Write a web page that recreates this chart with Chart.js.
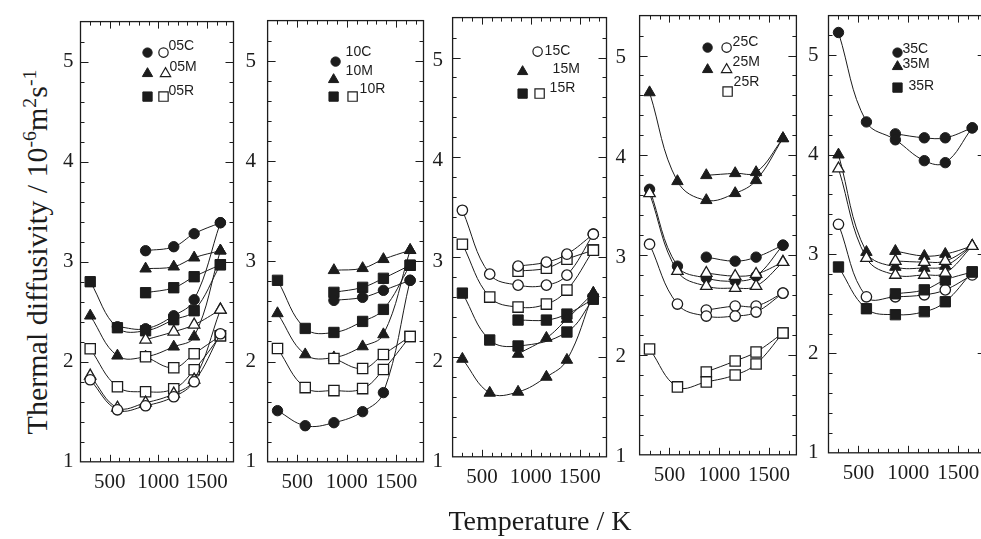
<!DOCTYPE html>
<html>
<head>
<meta charset="utf-8"/>
<script src="https://cdn.jsdelivr.net/npm/chart.js@4.4.1/dist/chart.umd.min.js"></script>
<style>
	body { margin:0; background:#fff; width:981px; height:539px; overflow:hidden; position:relative; }
	canvas.pan { position:absolute; }
	#ytitle { position:absolute; left:37px; top:252px; transform:translate(-50%,-50%) rotate(-90deg);
		white-space:nowrap; font:30px "Liberation Serif", serif; color:#1c1c1c; }
	#ytitle sup { font-size:0.66em; line-height:0; vertical-align:0.55em; }
	#xtitle { position:absolute; left:540px; top:521px; transform:translate(-50%,-50%);
		white-space:nowrap; font:28px "Liberation Serif", serif; color:#1c1c1c; }
</style>
</head>
<body>
<canvas id="p1" class="pan"></canvas>
<canvas id="p2" class="pan"></canvas>
<canvas id="p3" class="pan"></canvas>
<canvas id="p4" class="pan"></canvas>
<canvas id="p5" class="pan"></canvas>
<div id="ytitle">Thermal diffusivity / 10<sup>-6</sup>m<sup>2</sup>s<sup>-1</sup></div>
<div id="xtitle">Temperature / K</div>
<script>
// temperatures (K): first run from room temperature, second run from 870 K up
var T6 = [300, 580, 870, 1160, 1370, 1640];
var T4 = [870, 1160, 1370, 1640];
var xLabels = [500, 1000, 1500];
var yLabels = [1, 2, 3, 4, 5];

// 05 series
var fc05Lo = [null, 2.35, 2.33, 2.46, 2.62, 3.39];
var fc05Hi = [3.11, 3.15, 3.28, 3.39];
var oc05   = [1.82, 1.52, 1.56, 1.65, 1.80, 2.28];
var ft05Lo = [2.46, 2.06, 2.05, 2.15, 2.25, 3.11];
var ft05Hi = [2.93, 2.95, 3.04, 3.11];
var ot05Lo = [1.86, 1.54, 1.59, 1.68, 1.82, 2.52];
var ot05Hi = [2.22, 2.30, 2.37, 2.52];
var fs05Lo = [2.80, 2.34, 2.31, 2.42, 2.51, 2.97];
var fs05Hi = [2.69, 2.74, 2.85, 2.97];
var os05Lo = [2.13, 1.75, 1.70, 1.73, 1.92, 2.26];
var os05Hi = [2.05, 1.94, 2.08, 2.26];

// 10 series
var fc10Lo = [1.51, 1.36, 1.39, 1.50, 1.69, 2.81];
var fc10Hi = [2.61, 2.64, 2.71, 2.81];
var ft10Lo = [2.48, 2.07, 2.04, 2.15, 2.27, 3.11];
var ft10Hi = [2.91, 2.93, 3.02, 3.11];
var fs10Lo = [2.81, 2.33, 2.29, 2.40, 2.52, 2.96];
var fs10Hi = [2.69, 2.74, 2.83, 2.96];
var os10Lo = [2.13, 1.74, 1.71, 1.73, 1.92, 2.25];
var os10Hi = [2.03, 1.93, 2.07, 2.25];

// 15 series
var oc15Lo = [3.47, 2.83, 2.72, 2.72, 2.82, 3.23];
var oc15Hi = [2.91, 2.95, 3.03, 3.23];
var ft15Lo = [1.98, 1.64, 1.65, 1.80, 1.97, 2.64];
var ft15Hi = [2.03, 2.19, 2.38, 2.64];
var fs15Lo = [2.64, 2.17, 2.11, null, 2.25, 2.58];
var fs15Hi = [2.37, 2.37, 2.43, 2.58];
var os15Lo = [3.13, 2.60, 2.50, 2.53, 2.67, 3.07];
var os15Hi = [2.86, 2.89, 2.98, 3.07];

// 25 series
var fc25Lo = [3.66, 2.89, 2.77, 2.74, 2.79, 3.10];
var fc25Hi = [2.98, 2.94, 2.98, 3.10];
var oc25Lo = [3.11, 2.51, 2.39, 2.39, 2.43, 2.62];
var oc25Hi = [2.45, 2.49, 2.49, 2.62];
var ft25Lo = [4.63, 3.74, 3.55, 3.62, 3.75, 4.17];
var ft25Hi = [3.80, 3.82, 3.83, 4.17];
var ot25Lo = [3.62, 2.84, 2.69, 2.67, 2.69, 2.93];
var ot25Hi = [2.82, 2.79, 2.81, 2.93];
var os25Lo = [2.06, 1.68, 1.73, 1.80, 1.91, 2.22];
var os25Hi = [1.83, 1.94, 2.03, 2.22];

// 35 series
var fc35Lo = [5.23, 4.33, 4.15, 3.94, 3.92, 4.27];
var fc35Hi = [4.21, 4.17, 4.17, 4.27];
var ft35Lo = [4.00, 3.02, 2.87, 2.86, 2.88, 3.08];
var ft35Hi = [3.03, 2.98, 3.00, 3.08];
var ot35Lo = [3.86, 2.96, 2.79, 2.79, 2.81, 3.08];
var ot35Hi = [2.93, 2.92, 2.93, 3.08];
var oc35   = [3.30, 2.57, 2.57, 2.59, 2.64, 2.79];
var fs35Lo = [2.87, 2.45, 2.39, 2.42, 2.52, 2.82];
var fs35Hi = [2.60, 2.64, 2.74, 2.82];

var INK = '#1c1c1c';
var SERIF = '"Liberation Serif", "Times New Roman", serif';
var SANS = '"Liberation Sans", Arial, sans-serif';
var RAD = { circle: 5.2, rect: 7.3, triangle: 6.6 };

// [temps, values, shape, filled, order]
var panels = [
	{ id:'p1', frame:{l:80, t:22, w:153, h:440}, yl:true, yr:true,
	  series:[[T6,fc05Lo,'circle',1],[T4,fc05Hi,'circle',1],[T6,oc05,'circle',0],
	          [T6,ft05Lo,'triangle',1],[T4,ft05Hi,'triangle',1],[T6,ot05Lo,'triangle',0],[T4,ot05Hi,'triangle',0],
	          [T6,fs05Lo,'rect',1],[T4,fs05Hi,'rect',1],[T6,os05Lo,'rect',0],[T4,os05Hi,'rect',0]],
	  key:[{m:[['circle',1,67,31],['circle',0,83,31]], t:'05C', x:88, y:25},
	       {m:[['triangle',1,67,52],['triangle',0,85,52]], t:'05M', x:89, y:46},
	       {m:[['rect',1,67,75],['rect',0,83,75]], t:'05R', x:88, y:70}] },
	{ id:'p2', frame:{l:268, t:21, w:156, h:441}, yr:true,
	  series:[[T6,fc10Lo,'circle',1],[T4,fc10Hi,'circle',1],
	          [T6,ft10Lo,'triangle',1],[T4,ft10Hi,'triangle',1],
	          [T6,fs10Lo,'rect',1],[T4,fs10Hi,'rect',1],[T6,os10Lo,'rect',0],[T4,os10Hi,'rect',0]],
	  key:[{m:[['circle',1,68,41]], t:'10C', x:78, y:32},
	       {m:[['triangle',1,66,59]], t:'10M', x:78, y:51},
	       {m:[['rect',1,66,76],['rect',0,85,76]], t:'10R', x:92, y:69}] },
	{ id:'p3', frame:{l:453, t:18, w:154, h:439}, yr:true,
	  series:[[T6,oc15Lo,'circle',0],[T4,oc15Hi,'circle',0],
	          [T6,ft15Lo,'triangle',1],[T4,ft15Hi,'triangle',1],
	          [T6,fs15Lo,'rect',1],[T4,fs15Hi,'rect',1],[T6,os15Lo,'rect',0],[T4,os15Hi,'rect',0]],
	  key:[{m:[['circle',0,85,34]], t:'15C', x:92, y:34},
	       {m:[['triangle',1,70,54]], t:'15M', x:100, y:52},
	       {m:[['rect',1,70,76],['rect',0,87,76]], t:'15R', x:97, y:71}] },
	{ id:'p4', frame:{l:640, t:16, w:157, h:439},
	  series:[[T6,fc25Lo,'circle',1],[T4,fc25Hi,'circle',1],[T6,oc25Lo,'circle',0],[T4,oc25Hi,'circle',0],
	          [T6,ft25Lo,'triangle',1],[T4,ft25Hi,'triangle',1],[T6,ot25Lo,'triangle',0],[T4,ot25Hi,'triangle',0],
	          [T6,os25Lo,'rect',0],[T4,os25Hi,'rect',0]],
	  key:[{m:[['circle',1,68,32],['circle',0,87,32]], t:'25C', x:93, y:27},
	       {m:[['triangle',1,68,54],['triangle',0,87,54]], t:'25M', x:93, y:47},
	       {m:[['rect',0,88,76]], t:'25R', x:94, y:67}] },
	{ id:'p5', frame:{l:828, t:16, w:157, h:437}, yl:true,
	  series:[[T6,fc35Lo,'circle',1],[T4,fc35Hi,'circle',1],
	          [T6,ft35Lo,'triangle',1],[T4,ft35Hi,'triangle',1],[T6,ot35Lo,'triangle',0],[T4,ot35Hi,'triangle',0],
	          [T6,fs35Lo,'rect',1],[T4,fs35Hi,'rect',1],[T6,oc35,'circle',0,3]],
	  key:[{m:[['circle',1,69,37]], t:'35C', x:74, y:34},
	       {m:[['triangle',1,69,51]], t:'35M', x:74, y:49},
	       {m:[['rect',1,69,72]], t:'35R', x:80, y:71}] }
];

function dataset(s) {
	var pts = [];
	for (var i = 0; i < s[0].length; i++) {
		if (s[1][i] != null) pts.push({ x: s[0][i], y: s[1][i] });
	}
	return {
		data: pts, showLine: true, tension: 0.4,
		borderColor: INK, borderWidth: 1,
		pointStyle: s[2], pointRadius: RAD[s[2]], pointHoverRadius: RAD[s[2]],
		pointBackgroundColor: s[3] ? INK : '#fff',
		pointBorderColor: INK, pointBorderWidth: s[3] ? 1 : 1.3,
		order: s[4] != null ? s[4] : (s[3] ? 2 : 1)
	};
}

function yAxis(pos, show, pad) {
	return {
		type: 'linear', position: pos, min: 1, max: 5.4,
		grid: { display: false, drawTicks: false }, border: { display: false },
		ticks: { display: show, stepSize: 0.2, autoSkip: false, padding: pad, color: INK,
			font: { family: SERIF, size: 21 },
			callback: function (v) {
				var r = Math.round(v);
				return (Math.abs(v - r) < 1e-6 && yLabels.indexOf(r) >= 0) ? String(r) : '';
			} }
	};
}

// box around the plot with inward ticks
var framePlugin = {
	id: 'frame',
	beforeDatasetsDraw: function (chart) {
		var a = chart.chartArea, ctx = chart.ctx;
		var xs = chart.scales.x, ys = chart.scales.y;
		ctx.save();
		ctx.strokeStyle = INK;
		ctx.lineWidth = 1.3;
		ctx.strokeRect(a.left, a.top, a.right - a.left, a.bottom - a.top);
		ctx.lineWidth = 1;
		ctx.beginPath();
		for (var t = 300; t <= 1700; t += 100) {
			var px = Math.round(xs.getPixelForValue(t)) + 0.5;
			var len = (t % 500 === 0) ? 7 : 4;
			ctx.moveTo(px, a.bottom); ctx.lineTo(px, a.bottom - len);
			ctx.moveTo(px, a.top); ctx.lineTo(px, a.top + len);
		}
		for (var k = 6; k <= 26; k++) {
			var v = k / 5;
			var py = Math.round(ys.getPixelForValue(v)) + 0.5;
			var ln = (k % 5 === 0) ? 8 : 4;
			ctx.moveTo(a.left, py); ctx.lineTo(a.left + ln, py);
			ctx.moveTo(a.right, py); ctx.lineTo(a.right - ln, py);
		}
		ctx.stroke();
		ctx.restore();
	}
};

// key drawn inside the plot
var keyPlugin = {
	id: 'keyBox',
	afterDraw: function (chart, args, opts) {
		var a = chart.chartArea, ctx = chart.ctx;
		var rows = opts.rows || [];
		ctx.save();
		rows.forEach(function (r) {
			r.m.forEach(function (m) {
				ctx.fillStyle = m[1] ? INK : '#fff';
				ctx.strokeStyle = INK;
				ctx.lineWidth = m[1] ? 1 : 1.2;
				Chart.helpers.drawPoint(ctx, { pointStyle: m[0], rotation: 0,
					radius: RAD[m[0]] * 0.9, borderWidth: ctx.lineWidth }, a.left + m[2], a.top + m[3]);
			});
			ctx.fillStyle = INK;
			ctx.font = '14px ' + SANS;
			ctx.textBaseline = 'middle';
			ctx.textAlign = 'left';
			ctx.fillText(r.t, a.left + r.x, a.top + r.y);
		});
		ctx.restore();
	}
};

panels.forEach(function (p) {
	var scales = {
		x: { type: 'linear', position: 'bottom', min: 200, max: 1775,
			grid: { display: false, drawTicks: false }, border: { display: false },
			ticks: { stepSize: 100, autoSkip: false, maxRotation: 0, padding: 8, color: INK,
				font: { family: SERIF, size: 21 },
				callback: function (v) { return xLabels.indexOf(v) >= 0 ? String(v) : ''; } } }
	};
	if (p.yl && p.yr) {
		scales.y = yAxis('left', true, 7);
		scales.y2 = yAxis('right', true, 12);
	} else if (p.yl) {
		scales.y = yAxis('left', true, 10);
	} else {
		scales.y = yAxis('right', !!p.yr, 9);
	}
	var cv = document.getElementById(p.id);
	cv.width = p.frame.w + 70;
	cv.height = p.frame.h + 50;
	var chart = new Chart(cv, {
		type: 'scatter',
		data: { datasets: p.series.map(dataset) },
		options: {
			responsive: false, maintainAspectRatio: false, animation: false,
			layout: { padding: { top: 3, left: 2, right: 2, bottom: 0 } },
			plugins: { legend: { display: false }, tooltip: { enabled: false },
				keyBox: { rows: p.key } },
			scales: scales
		},
		plugins: [framePlugin, keyPlugin]
	});
	var a = chart.chartArea;
	var dw = p.frame.w - (a.right - a.left), dh = p.frame.h - (a.bottom - a.top);
	if (Math.abs(dw) > 0.5 || Math.abs(dh) > 0.5) {
		chart.resize(cv.width + Math.round(dw), cv.height + Math.round(dh));
		a = chart.chartArea;
	}
	cv.style.left = (p.frame.l - a.left) + 'px';
	cv.style.top = (p.frame.t - a.top) + 'px';
});
</script>
</body>
</html>
